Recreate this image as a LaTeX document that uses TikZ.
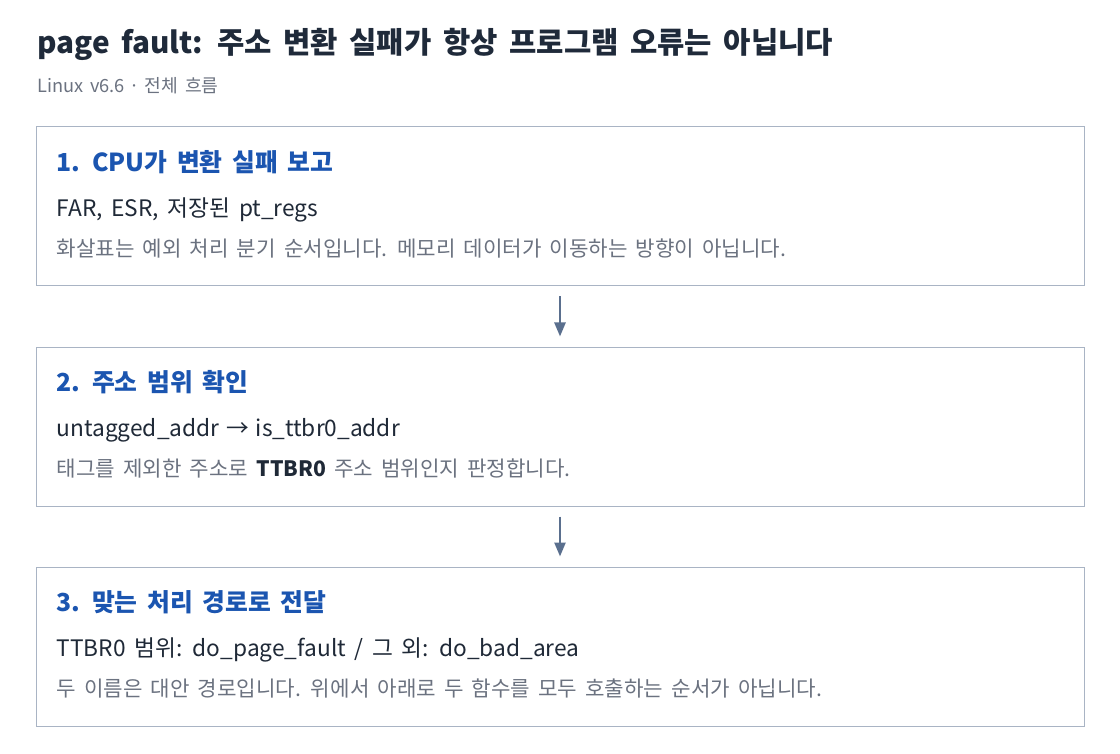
\documentclass[tikz,border=0pt]{standalone}
\usepackage{fontspec}
\setmainfont[WordSpace=1.7]{Noto Sans CJK KR}
\usetikzlibrary{positioning,calc,arrows.meta}

\definecolor{titleink}{HTML}{1F2A3A}
\definecolor{headblue}{HTML}{1B55B0}
\definecolor{bodyink}{HTML}{1F2937}
\definecolor{noteink}{HTML}{6B7280}
\definecolor{boxline}{HTML}{A9B4C4}
\definecolor{flowink}{HTML}{5A6F8E}

\tikzset{
  stepbox/.style={draw=boxline, line width=1pt, fill=white,
    minimum width=1048pt, minimum height=159pt, inner sep=0pt},
  headtext/.style={anchor=base west, inner sep=0pt, text=headblue,
    font=\fontsize{24.8}{28}\selectfont\bfseries},
  codetext/.style={anchor=base west, inner sep=0pt, text=bodyink,
    font=\fontsize{22.7}{26}\selectfont},
  notetext/.style={anchor=base west, inner sep=0pt, text=noteink,
    font=\fontsize{21.2}{24}\selectfont},
  flowarrow/.style={draw=flowink, line width=2.5pt,
    -{Triangle[length=14pt,width=11pt]}, shorten <=10pt, shorten >=10pt}
}

\begin{document}
\begin{tikzpicture}[x=1pt,y=-1pt]
    \useasboundingbox (0,0) rectangle (1120,754);
    \fill[white] (0,0) rectangle (1120,754);

    % title and subtitle
    \node[anchor=base west, inner sep=0pt, text=titleink,
      font=\fontsize{29.7}{33}\selectfont\bfseries] (title) at (37,54)
      {page fault: 주소 변환 실패가 항상 프로그램 오류는 아닙니다};
    \node[anchor=base west, inner sep=0pt, text=noteink,
      font=\fontsize{18.2}{21}\selectfont] (subtitle) at (37,93)
      {Linux v6.6 \kern-.12em·\kern-.12em{} 전체 흐름};

    % the three steps
    \node[stepbox] (box1) at (560,206.5) {};
    \node[stepbox] (box2) at (560,426.5) {};
    \node[stepbox] (box3) at (560,646.5) {};

    \node[headtext] (head1) at ($(box1.north west)+(21,45)$) {1. CPU가 변환 실패 보고};
    \node[codetext] (code1) at ($(box1.north west)+(21,90)$) {FAR, ESR, 저장된 pt\_regs};
    \node[notetext] (note1) at ($(box1.north west)+(21,130)$)
      {화살표는 예외 처리 분기 순서입니다. 메모리 데이터가 이동하는 방향이 아닙니다.};

    \node[headtext] (head2) at ($(box2.north west)+(21,45)$) {2. 주소 범위 확인};
    \node[codetext] (code2) at ($(box2.north west)+(21,90)$)
      {untagged\_addr \kern-.08em→\kern-.08em{} is\_ttbr0\_addr};
    \node[notetext] (note2) at ($(box2.north west)+(21,130)$)
      {태그를 제외한 주소로 {\color{bodyink}\bfseries TTBR0} 주소 범위인지 판정합니다.};

    \node[headtext] (head3) at ($(box3.north west)+(21,45)$) {3. 맞는 처리 경로로 전달};
    \node[codetext] (code3) at ($(box3.north west)+(21,90)$)
      {TTBR0 범위: do\_page\_fault / 그 외: do\_bad\_area};
    \node[notetext] (note3) at ($(box3.north west)+(21,130)$)
      {두 이름은 대안 경로입니다. 위에서 아래로 두 함수를 모두 호출하는 순서가 아닙니다.};

    % flow between steps
    \draw[flowarrow] (box1) -- (box2);
    \draw[flowarrow] (box2) -- (box3);
\end{tikzpicture}
\end{document}
